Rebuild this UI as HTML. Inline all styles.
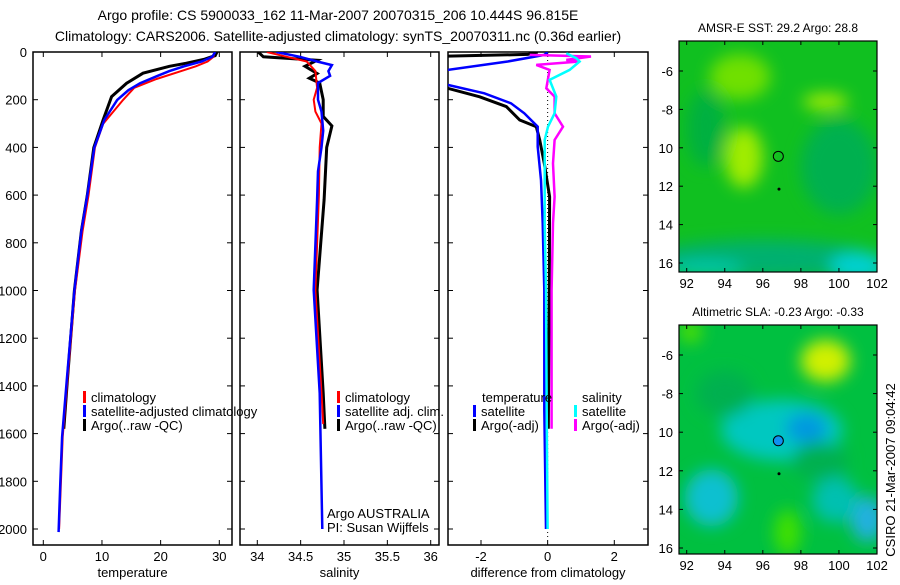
<!DOCTYPE html>
<html><head><meta charset="utf-8"><style>
body{margin:0;background:#fff;width:900px;height:580px;overflow:hidden}
svg{font-family:"Liberation Sans",sans-serif}
text{font-size:13px;fill:#000}
</style></head><body>
<svg id="s" width="900" height="580" viewBox="0 0 900 580">
<text x="338" y="20" text-anchor="middle" style="font-size:14px">Argo profile: CS 5900033_162 11-Mar-2007 20070315_206 10.444S 96.815E</text>
<text x="338" y="41" text-anchor="middle" style="font-size:14px">Climatology: CARS2006. Satellite-adjusted climatology: synTS_20070311.nc (0.36d earlier)</text>
<g id="g"></g>
</svg>
<script>
// ---- data ----
const tClimDepth=[0,20,40,60,80,113,150,201,251,301,401,601,750,1000,1375,1614,1807,2000];
const tClimVal=[29.2,29.0,28,26,23.5,19.3,15.5,13.6,11.9,10.2,8.8,7.7,6.7,5.4,4.1,3.3,3.0,2.7];
const tSatDepth=[0,20,40,60,80,100,131,160,201,285,401,601,750,1000,1375,1614,1807,2013];
const tSatVal=[29.3,28.8,27,24,21.5,19.5,16.5,14.5,12.6,10.4,8.7,7.5,6.5,5.3,4.0,3.2,2.9,2.6];
const tArgoDepth=[0,15,30,47,60,89,131,187,285,401,601,750,1000,1375,1580];
const tArgoVal=[29.6,29.3,27.5,24.4,21.5,17,14.2,11.65,10.2,8.6,7.5,6.5,5.3,4.1,3.5];
const sClimDepth=[0,20,40,80,150,200,250,300,400,600,1000,1430,1560];
const sClimVal=[34.11,34.34,34.57,34.67,34.69,34.65,34.67,34.74,34.72,34.71,34.67,34.74,34.76];
const sSatDepth=[0,20,40,55,80,100,130,200,250,330,400,500,620,998,1430,2000];
const sSatVal=[34.22,34.49,34.69,34.86,34.82,34.84,34.70,34.70,34.74,34.76,34.74,34.70,34.69,34.65,34.72,34.75];
const sArgoDepth=[0,20,35,60,90,110,130,200,270,310,400,620,998,1430,1580];
const sArgoVal=[34.01,34.07,34.69,34.55,34.69,34.60,34.72,34.76,34.76,34.86,34.80,34.77,34.69,34.76,34.78];
const dTSatDepth=[0,12,40,75,80,130,138,173,215,257,313,397,537,718,1000,1500,2000];
const dTSatVal=[0,-0.1,-1.2,-3,-4,-4,-3,-1.9,-1.1,-0.7,-0.3,-0.3,-0.2,-0.15,-0.1,-0.1,-0.05];
const dTArgoDepth=[0,10,20,140,152,188,229,285,313,369,467,607,1000,1580];
const dTArgoVal=[-0.3,-0.6,-4,-4,-3,-2.04,-1.24,-0.84,-0.34,-0.24,-0.1,0.06,0.05,0.02];
const dSSatDepth=[5,26,40,75,117,187,257,313,369,467,718,1000,1500,2000];
const dSSatVal=[0.56,0.86,0.96,0.66,0.06,0.26,0.21,0.01,-0.09,-0.09,-0.09,-0.05,-0.03,0];
const dSArgoDepth=[12,19,33,40,54,75,152,187,257,313,369,467,607,718,1000,1580];
const dSArgoVal=[-0.54,1.3,0.56,0.96,-0.34,0.06,-0.04,0.21,0.21,0.46,0.21,0.16,0.21,0.16,0.12,0.12];
const depthTicks=[0,200,400,600,800,1000,1200,1400,1600,1800,2000];
const tTicks=[0,10,20,30];
const sTicks=[34,34.5,35,35.5,36];
const dTicks=[-2,0,2];
const lonTicks=[92,94,96,98,100,102];
const latTicks=[-6,-8,-10,-12,-14,-16];
const latLabels=['-6','-8','10','12','14','16'];

const NS='http://www.w3.org/2000/svg';
const G=document.getElementById('g');
function el(tag,attrs,parent){const e=document.createElementNS(NS,tag);for(const k in attrs)e.setAttribute(k,attrs[k]);(parent||G).appendChild(e);return e;}
const TOP=52,BOT=545,DS=0.2385;
const yD=d=>TOP+d*DS;
const panels=[
 {l:33,r:232,x0:0,x1:30,p0:43.3,p1:219.3,ticks:tTicks,title:'temperature',name:'temperature-panel'},
 {l:240,r:439,x0:34,x1:36,p0:257.3,p1:430.7,ticks:sTicks,title:'salinity',name:'salinity-panel'},
 {l:448,r:648,x0:-2,x1:2,p0:481,p1:614.3,ticks:dTicks,title:'difference from climatology',name:'difference-panel'}];
panels.forEach((P,i)=>{
 P.x=v=>P.p0+(v-P.x0)*(P.p1-P.p0)/(P.x1-P.x0);
 const cp=el('clipPath',{id:'c'+i});el('rect',{x:P.l,y:TOP,width:P.r-P.l,height:BOT-TOP},cp);
 const f=el('rect',{x:P.l,y:TOP,width:P.r-P.l,height:BOT-TOP,fill:'none',stroke:'#000','stroke-width':1.5});
 
 
 P.ticks.forEach(t=>{const x=P.x(t);
  el('line',{x1:x,x2:x,y1:BOT,y2:BOT-5,stroke:'#000'});el('line',{x1:x,x2:x,y1:TOP,y2:TOP+5,stroke:'#000'});
  const tx=el('text',{x:x,y:BOT+16,'text-anchor':'middle'});tx.textContent=t;
  
  });
 depthTicks.forEach(d=>{const y=yD(d);
  el('line',{x1:P.l,x2:P.l+5,y1:y,y2:y,stroke:'#000'});el('line',{x1:P.r,x2:P.r-5,y1:y,y2:y,stroke:'#000'});
  if(i==0){const tx=el('text',{x:27,y:y+5,'text-anchor':'end'});tx.textContent=d;
   
   }});
 const tt=el('text',{x:(P.l+P.r)/2,y:BOT+32,'text-anchor':'middle'});tt.textContent=P.title;
 
 
});
function line(P,i,ds,vs,col,w,name){
 const pts=ds.map((d,k)=>P.x(vs[k]).toFixed(1)+','+yD(d).toFixed(1)).join(' ');
 const p=el('polyline',{points:pts,fill:'none',stroke:col,'stroke-width':w,'clip-path':'url(#c'+i+')'});
 
 
}
const [P1,P2,P3]=panels;
line(P1,0,tArgoDepth,tArgoVal,'#000',3,'temp-argo-line');
line(P1,0,tClimDepth,tClimVal,'#f00',2,'temp-climatology-line');
line(P1,0,tSatDepth,tSatVal,'#00f',2.5,'temp-satellite-line');
line(P2,1,sArgoDepth,sArgoVal,'#000',3,'sal-argo-line');
line(P2,1,sClimDepth,sClimVal,'#f00',2,'sal-climatology-line');
line(P2,1,sSatDepth,sSatVal,'#00f',2.5,'sal-satellite-line');
el('line',{x1:P3.x(0),x2:P3.x(0),y1:TOP,y2:BOT-5,stroke:'#000','stroke-dasharray':'1,3'});
line(P3,2,dTArgoDepth,dTArgoVal,'#000',3,'dtemp-argo-line');
line(P3,2,dTSatDepth,dTSatVal,'#00f',2.5,'dtemp-satellite-line');
line(P3,2,dSArgoDepth,dSArgoVal,'#f0f',2.5,'dsal-argo-line');
line(P3,2,dSSatDepth,dSSatVal,'#0ff',2.5,'dsal-satellite-line');
function leg(x,y,col,txt,name){
 if(col){el('rect',{x:x,y:y-11,width:3,height:12,fill:col});}
 const t=el('text',{x:x+8,y:y});t.textContent=txt;
 
 
}
leg(83,402,'#f00','climatology','legend-climatology');
leg(83,416,'#00f','satellite-adjusted climatology','legend-satellite');
leg(83,430,'#000','Argo(..raw -QC)','legend-argo');
leg(337,402,'#f00','climatology','legend-sal-climatology');
leg(337,416,'#00f','satellite adj. clim.','legend-sal-satellite');
leg(337,430,'#000','Argo(..raw -QC)','legend-sal-argo');
leg(474,402,null,'temperature','legend-temp-header');
leg(473,416,'#00f','satellite','legend-dtemp-satellite');
leg(473,430,'#000','Argo(-adj)','legend-dtemp-argo');
leg(574,402,null,'salinity','legend-sal-header');
leg(574,416,'#0ff','satellite','legend-dsal-satellite');
leg(574,430,'#f0f','Argo(-adj)','legend-dsal-argo');
leg(319,518,null,'Argo AUSTRALIA','credit-line1');
leg(319,532,null,'PI: Susan Wijffels','credit-line2');

// ---- maps ----
function map(top,bot,y6,y16,blobs,base,title,name,fillCircle){
 const L=679,R=877;const lx=v=>686.7+(v-92)*19.03;const ly=v=>y6+(-6-v)*(y16-y6)/10;
 const g=el('g',{});
 const id='m'+top;const cp=el('clipPath',{id:id});el('rect',{x:L,y:top,width:R-L,height:bot-top},cp);
 const f=el('filter',{id:'f'+top,x:'-50%',y:'-50%',width:'200%',height:'200%'});el('feGaussianBlur',{stdDeviation:8},f);
 el('rect',{x:L,y:top,width:R-L,height:bot-top,fill:base},g);
 const bg=el('g',{'clip-path':'url(#'+id+')'},g);const bb=el('g',{filter:'url(#f'+top+')'},bg);
 blobs.forEach(b=>el('ellipse',{cx:lx(b[0]),cy:ly(b[1]),rx:b[2]*19,ry:b[3]*19,fill:b[4]},bb));
 el('rect',{x:L,y:top,width:R-L,height:bot-top,fill:'none',stroke:'#000','stroke-width':1.2},g);
 lonTicks.forEach(v=>{const x=lx(v);el('line',{x1:x,x2:x,y1:bot,y2:bot-4,stroke:'#000'},g);el('line',{x1:x,x2:x,y1:top,y2:top+4,stroke:'#000'},g);
  const t=el('text',{x:x,y:bot+16,'text-anchor':'middle'},g);t.textContent=v;});
 latTicks.forEach((v,k)=>{const y=ly(v);el('line',{x1:L,x2:L+4,y1:y,y2:y,stroke:'#000'},g);el('line',{x1:R,x2:R-4,y1:y,y2:y,stroke:'#000'},g);
  const t=el('text',{x:L-6,y:y+5,'text-anchor':'end'},g);t.textContent=latLabels[k];});
 el('circle',{cx:lx(96.815),cy:ly(-10.444),r:5,fill:fillCircle,stroke:'#000','stroke-width':1},g);
 el('circle',{cx:lx(96.85),cy:ly(-12.15),r:1.5,fill:'#000'},g);
 const t=el('text',{x:778,y:top-9,'text-anchor':'middle',style:'font-size:12px'},g);t.textContent=title;
}
map(41,272,71,263,[
 [95,-10.5,1.0,1.6,'#a0ec00'],[94.8,-6.3,1.6,1.2,'#70e000'],[99.3,-7.6,1.2,0.4,'#b0f000'],
 [93,-9,1.0,2.0,'#00b040'],[100,-11,2,2.5,'#00b050'],[96,-15.8,6,1.0,'#00b070'],[101,-16.2,1.5,0.8,'#00d0d0'],[93,-16.3,2,0.4,'#00c8b0']
],'#10c020','AMSR-E SST: 29.2 Argo: 28.8','sst-map','none');
map(325,554,355,548,[
 [99.3,-6.3,1.3,1.1,'#d0f000'],[97,-9.9,3.2,1.6,'#00c8c0'],[98.3,-9.8,1.1,0.8,'#0098e0'],[93.3,-13.4,1.4,1.5,'#10c0d0'],
 [101.5,-14.5,0.9,1.2,'#20b0e0'],[99.8,-13.5,1.2,1.2,'#00c0b0'],[97.3,-15.2,0.7,1.2,'#40e000'],[92.2,-4.8,0.6,0.6,'#50e000'],
 [94,-8,1.5,1.2,'#00b050'],[99,-11.5,1.5,1,'#00b050']
],'#00c040','Altimetric SLA: -0.23 Argo: -0.33','sla-map','#1090f0');
const ct=el('text',{x:0,y:0,transform:'translate(895,470) rotate(-90)','text-anchor':'middle'});
ct.textContent='CSIRO 21-Mar-2007 09:04:42';


</script>
</body></html>
